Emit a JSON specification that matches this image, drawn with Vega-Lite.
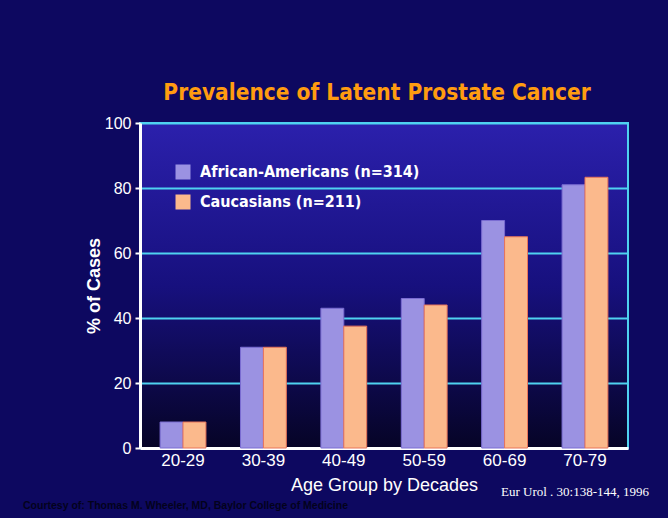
{
  "$schema": "https://vega.github.io/schema/vega-lite/v6.json",
  "width": 488,
  "height": 325,
  "autosize": "none",
  "padding": {"left": 140, "top": 123, "right": 40, "bottom": 70},
  "background": "#0d0860",
  "title": {
    "text": "Prevalence of Latent Prostate Cancer",
    "color": "#ff9c10",
    "font": "DejaVu Sans Condensed, sans-serif",
    "fontSize": 22.5,
    "fontWeight": "bold",
    "anchor": "middle",
    "dx": -7,
    "offset": 11
  },
  "config": {
    "view": {
      "stroke": "#4fd2f0",
      "strokeWidth": 2,
      "fill": {
        "gradient": "linear",
        "x1": 0, "y1": 0, "x2": 0, "y2": 1,
        "stops": [
          {"offset": 0, "color": "#2b20ac"},
          {"offset": 0.5, "color": "#17107e"},
          {"offset": 1, "color": "#060426"}
        ]
      }
    },
    "font": "Liberation Sans"
  },
  "data": {
    "values": [
      {"age": "20-29", "group": "African-Americans (n=314)", "pct": 8},
      {"age": "20-29", "group": "Caucasians (n=211)", "pct": 8},
      {"age": "30-39", "group": "African-Americans (n=314)", "pct": 31},
      {"age": "30-39", "group": "Caucasians (n=211)", "pct": 31},
      {"age": "40-49", "group": "African-Americans (n=314)", "pct": 43},
      {"age": "40-49", "group": "Caucasians (n=211)", "pct": 37.5},
      {"age": "50-59", "group": "African-Americans (n=314)", "pct": 46},
      {"age": "50-59", "group": "Caucasians (n=211)", "pct": 44},
      {"age": "60-69", "group": "African-Americans (n=314)", "pct": 70},
      {"age": "60-69", "group": "Caucasians (n=211)", "pct": 65},
      {"age": "70-79", "group": "African-Americans (n=314)", "pct": 81},
      {"age": "70-79", "group": "Caucasians (n=211)", "pct": 83.3}
    ]
  },
  "layer": [
    {
      "mark": {"type": "bar", "strokeWidth": 1},
      "encoding": {
        "x": {
          "field": "age",
          "type": "nominal",
          "sort": null,
          "scale": {"paddingInner": 0.43, "paddingOuter": 0.25},
          "axis": {
            "title": "Age Group by Decades",
            "titleColor": "white",
            "titleFontSize": 18,
            "titleFontWeight": "normal",
            "titlePadding": 8,
            "labelColor": "white",
            "labelFontSize": 17,
            "labelAngle": 0,
            "labelPadding": 4,
            "domainColor": "white",
            "domainWidth": 3,
            "ticks": false
          }
        },
        "xOffset": {"field": "group", "type": "nominal", "scale": {"paddingInner": 0, "paddingOuter": 0}},
        "y": {
          "field": "pct",
          "type": "quantitative",
          "scale": {"domain": [0, 100], "nice": false},
          "axis": {
            "title": "% of Cases",
            "titleColor": "white",
            "titleFontSize": 18,
            "titleFontWeight": "bold",
            "titlePadding": 1,
            "labelColor": "white",
            "labelFontSize": 16,
            "labelPadding": 4,
            "values": [0, 20, 40, 60, 80, 100],
            "domainColor": "white",
            "domainWidth": 3,
            "tickColor": "white",
            "tickSize": 5,
            "tickWidth": 2,
            "gridColor": "#4fd2f0",
            "gridWidth": 2,
            "gridOpacity": 1
          }
        },
        "fill": {
          "field": "group",
          "type": "nominal",
          "scale": {"range": ["#9b92e2", "#fbb98c"]},
          "legend": {
            "title": null,
            "orient": "none",
            "legendX": 35,
            "legendY": 41,
            "padding": 0,
            "symbolType": "square",
            "symbolSize": 225,
            "symbolOpacity": 1,
            "symbolStrokeWidth": 0,
            "labelColor": "white",
            "labelFontSize": 16,
            "labelFontWeight": "bold",
            "labelFont": "DejaVu Sans Condensed, sans-serif",
            "labelOffset": 9,
            "rowPadding": 14,
            "labelLimit": 400
          }
        },
        "stroke": {
          "field": "group",
          "type": "nominal",
          "scale": {"range": ["#7a6cd2", "#e8745a"]},
          "legend": null
        }
      }
    },
    {
      "data": {"values": [{"label": "Eur Urol . 30:138-144, 1996", "age": "70-79", "pos": -13.5}]},
      "mark": {"type": "text", "font": "Liberation Serif", "fontSize": 13, "color": "white", "clip": false, "dx": -10},
      "encoding": {
        "text": {"field": "label"},
        "x": {"field": "age", "type": "nominal"},
        "y": {"field": "pos", "type": "quantitative"}
      }
    },
    {
      "data": {"values": [{"label": "Courtesy of: Thomas M. Wheeler, MD, Baylor College of Medicine", "age": "20-29", "pos": -17.8}]},
      "mark": {"type": "text", "font": "Liberation Sans", "fontSize": 10.5, "fontWeight": "bold", "color": "#03021c", "align": "left", "clip": false, "dx": -160},
      "encoding": {
        "text": {"field": "label"},
        "x": {"field": "age", "type": "nominal"},
        "y": {"field": "pos", "type": "quantitative"}
      }
    }
  ]
}
